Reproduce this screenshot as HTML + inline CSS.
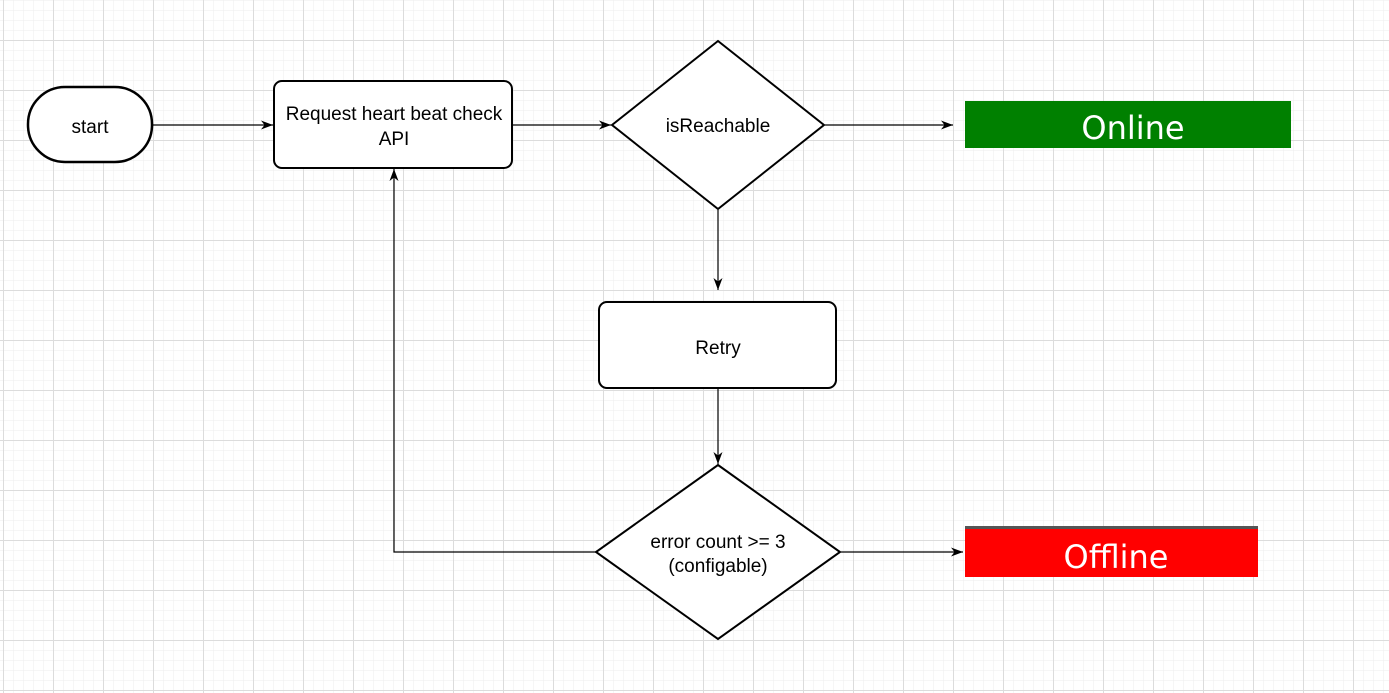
<!DOCTYPE html>
<html><head><style>
html,body{margin:0;padding:0;background:#fff;}
svg{display:block;}
</style></head><body>
<svg width="1389" height="693" xmlns="http://www.w3.org/2000/svg">
<defs>
<pattern id="minor" x="3" y="0" width="10" height="10" patternUnits="userSpaceOnUse">
<path d="M0 0H10M0 0V10" stroke="#ededed" stroke-width="1" fill="none"/>
</pattern>
<pattern id="major" x="3" y="40" width="50" height="50" patternUnits="userSpaceOnUse">
<path d="M0 0.5H50M0.5 0V50" stroke="#dcdcdc" stroke-width="1" fill="none"/>
</pattern>
<marker id="arr" markerWidth="14" markerHeight="14" refX="12" refY="6" orient="auto" markerUnits="userSpaceOnUse">
<path d="M0,1.5 L12,6 L0,10.5 L3.5,6 Z" fill="#000"/>
</marker>
</defs>
<rect width="1389" height="693" fill="url(#minor)"/>
<rect width="1389" height="693" fill="url(#major)"/>
<g font-family="Liberation Sans, sans-serif" font-size="19" fill="#000" text-anchor="middle">
<rect x="28" y="87" width="124" height="75" rx="37" fill="#fff" stroke="#000" stroke-width="2.5"/>
<text x="90" y="133">start</text>
<rect x="274" y="81" width="238" height="87" rx="8" fill="#fff" stroke="#000" stroke-width="2"/>
<text x="394" y="120">Request heart beat check</text>
<text x="394" y="145">API</text>
<polygon points="718,41 824,125 718,209 612,125" fill="#fff" stroke="#000" stroke-width="2"/>
<text x="718" y="132">isReachable</text>
<rect x="965" y="101" width="326" height="47" fill="#008000"/>
<text x="1133" y="139" font-family="DejaVu Sans, sans-serif" font-size="32" fill="#fff">Online</text>
<rect x="599" y="302" width="237" height="86" rx="8" fill="#fff" stroke="#000" stroke-width="2"/>
<text x="718" y="354">Retry</text>
<polygon points="718,465 840,552 718,639 596,552" fill="#fff" stroke="#000" stroke-width="2"/>
<text x="718" y="548">error count &gt;= 3</text>
<text x="718" y="572">(configable)</text>
<rect x="965" y="527" width="293" height="50" fill="#ff0000"/>
<rect x="965" y="526" width="293" height="3" fill="#555"/>
<text x="1116" y="568" font-family="DejaVu Sans, sans-serif" font-size="32" fill="#fff">Offline</text>
</g>
<g stroke="#000" stroke-width="1.2" fill="none" marker-end="url(#arr)">
<line x1="153" y1="125" x2="273" y2="125"/>
<line x1="513" y1="125" x2="611" y2="125"/>
<line x1="825" y1="125" x2="953" y2="125"/>
<line x1="718" y1="210" x2="718" y2="290"/>
<line x1="718" y1="389" x2="718" y2="464"/>
<line x1="841" y1="552" x2="963" y2="552"/>
<polyline points="596,552 394,552 394,169"/>
</g>
</svg>
</body></html>
